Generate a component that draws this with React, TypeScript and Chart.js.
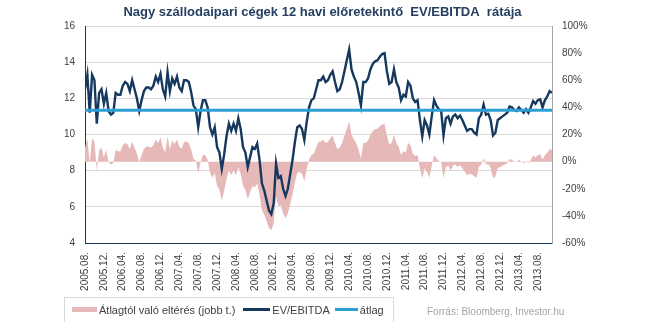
import React, { useEffect, useRef } from 'react';
import { Chart, registerables } from 'chart.js';

Chart.register(...registerables);

// ---- data ----
const chartTitle = 'Nagy szállodaipari cégek 12 havi előretekintő  EV/EBITDA  rátája';
const sourceText = 'Forrás: Bloomberg, Investor.hu';

const xTickLabels = [
  '2005.08.', '2005.12.', '2006.04.', '2006.08.', '2006.12.', '2007.04.', '2007.08.',
  '2007.12.', '2008.04.', '2008.08.', '2008.12.', '2009.04.', '2009.08.', '2009.12.',
  '2010.04.', '2010.08.', '2010.12.', '2011.04.', '2011.08.', '2011.12.', '2012.04.',
  '2012.08.', '2012.12.', '2013.04.', '2013.08.',
];
const monthsPerTickLabel = 4;
const sampleStepMonths = 0.5; // one sample every half month, starting 2005.08

const evEbitda = [
  12.5, 13.3, 11.2, 13.3, 13.0, 10.6, 12.3, 12.5, 11.7, 12.3,
  11.3, 11.1, 11.2, 12.3, 12.2, 12.2, 12.7, 12.9, 12.8, 12.4,
  13.0, 12.5, 12.0, 11.3, 11.9, 12.4, 12.6, 12.6, 12.5, 12.7,
  13.2, 12.9, 13.35, 12.5, 12.1, 13.45, 12.4, 13.1, 12.8, 13.2,
  12.6, 12.4, 13.0, 13.0, 12.9, 12.35, 11.6, 11.4, 10.4, 11.3,
  11.9, 11.9, 11.5, 10.4, 10.0, 10.4, 9.3, 9.0, 8.1, 8.9,
  9.9, 10.6, 10.2, 10.6, 10.2, 10.9, 10.3, 9.3, 9.0, 8.2,
  8.75, 9.3, 9.2, 9.5, 8.6, 7.3, 6.9, 6.35, 5.8, 5.6,
  6.2, 8.4, 7.6, 7.7, 7.0, 6.6, 7.0, 7.8, 8.6, 9.6,
  10.4, 10.5, 10.3, 9.7, 10.7, 11.5, 11.9, 12.0, 12.5, 13.0,
  13.0, 13.2, 12.9, 13.0, 13.3, 13.5, 12.9, 12.4, 12.5, 12.9,
  13.5, 14.1, 14.7, 13.6, 13.2, 12.9, 12.3, 11.6, 12.9, 12.9,
  13.1, 13.6, 13.9, 14.05, 14.1, 14.3, 14.45, 14.5, 13.5, 12.8,
  12.9, 13.6, 12.9, 12.6, 11.9, 12.2, 12.1, 12.9, 12.7, 12.0,
  11.8, 11.9, 10.8, 9.9, 10.8, 10.5, 10.0, 11.0, 11.9, 11.6,
  11.4, 11.3, 9.95, 10.9, 11.0, 10.6, 11.0, 11.1, 10.9, 11.05,
  10.8, 10.5, 10.2, 10.3, 10.3, 10.1, 10.0, 10.9, 11.1, 11.65,
  11.1, 11.15, 10.8, 9.95, 10.1, 10.8, 10.9, 11.0, 11.1, 11.2,
  11.55, 11.5, 11.35, 11.3, 11.5, 11.35, 11.2, 11.4, 11.2, 11.5,
  11.85, 11.7, 11.9, 11.95, 11.5, 11.9, 12.1, 12.4, 12.3,
];

const deviationPct = [
  10.2, 17.3, -1.2, 17.3, 14.6, -6.5, 8.5, 10.2, 3.2, 8.5,
  -0.4, -2.1, -1.2, 8.5, 7.6, 7.6, 12.0, 13.8, 12.9, 9.3,
  14.6, 10.2, 5.8, -0.4, 4.9, 9.3, 11.1, 11.1, 10.2, 12.0,
  16.4, 13.8, 17.7, 10.2, 6.7, 18.6, 9.3, 15.5, 12.9, 16.4,
  11.1, 9.3, 14.6, 14.6, 13.8, 8.9, 2.3, 0.5, -8.3, -0.4,
  4.9, 4.9, 1.4, -8.3, -11.8, -8.3, -18.0, -20.6, -28.6, -21.5,
  -12.7, -6.5, -10.1, -6.5, -10.1, -3.9, -9.2, -18.0, -20.6, -27.7,
  -22.8, -18.0, -18.9, -16.2, -24.2, -35.6, -39.2, -44.0, -48.9, -50.6,
  -45.3, -25.9, -33.0, -32.1, -38.3, -41.8, -38.3, -31.2, -24.2, -15.3,
  -8.3, -7.4, -9.2, -14.5, -5.6, 1.4, 4.9, 5.8, 10.2, 14.6,
  14.6, 16.4, 13.8, 14.6, 17.3, 19.0, 13.8, 9.3, 10.2, 13.8,
  19.0, 24.3, 29.6, 19.9, 16.4, 13.8, 8.5, 2.3, 13.8, 13.8,
  15.5, 19.9, 22.6, 23.9, 24.3, 26.1, 27.4, 27.9, 19.0, 12.9,
  13.8, 19.9, 13.8, 11.1, 4.9, 7.6, 6.7, 13.8, 12.0, 5.8,
  4.1, 4.9, -4.8, -12.7, -4.8, -7.4, -11.8, -3.0, 4.9, 2.3,
  0.5, -0.4, -12.3, -3.9, -3.0, -6.5, -3.0, -2.1, -3.9, -2.6,
  -4.8, -7.4, -10.1, -9.2, -9.2, -10.9, -11.8, -3.9, -2.1, 2.7,
  -2.1, -1.7, -4.8, -12.3, -10.9, -4.8, -3.9, -3.0, -2.1, -1.2,
  1.9, 1.4, 0.1, -0.4, 1.4, 0.1, -1.2, 0.5, -1.2, 1.4,
  4.5, 3.2, 4.9, 5.4, 1.4, 4.9, 6.7, 9.3, 8.5,
];

const averageValue = 11.34;

const leftAxis = { min: 4, max: 16, step: 2 };
const rightAxis = { min: -60, max: 100, step: 20 };

const seriesNames = {
  deviation: 'Átlagtól való eltérés (jobb t.)',
  line: 'EV/EBITDA',
  average: 'átlag',
};

// ---- styles ----
const NAVY = '#15395E';
const BLUE = '#2E9FD5';
const PINK = '#E6B9B8';
const GRID = '#D9D9D9';
const TEXT = '#404040';
const TITLE = '#243F60';
const FONT = '"Liberation Sans", Arial, sans-serif';

export default function App() {
  const canvasRef = useRef<HTMLCanvasElement>(null);

  useEffect(() => {
    const canvas = canvasRef.current;
    if (!canvas) return;
    const months = evEbitda.map((_, i) => i * sampleStepMonths);
    const lastMonth = months[months.length - 1];
    const tickFont = { family: FONT, size: 10 };

    const chart = new Chart(canvas, {
      type: 'line',
      data: {
        datasets: [
          {
            label: seriesNames.average,
            data: [
              { x: months[0], y: averageValue },
              { x: lastMonth, y: averageValue },
            ],
            borderColor: BLUE,
            borderWidth: 3,
            pointRadius: 0,
            yAxisID: 'y',
          },
          {
            label: seriesNames.line,
            data: months.map((m, i) => ({ x: m, y: evEbitda[i] })),
            borderColor: NAVY,
            borderWidth: 2.4,
            pointRadius: 0,
            tension: 0,
            yAxisID: 'y',
          },
          {
            label: seriesNames.deviation,
            data: months.map((m, i) => ({ x: m, y: deviationPct[i] })),
            borderColor: 'rgba(0,0,0,0)',
            borderWidth: 0,
            backgroundColor: PINK,
            fill: 'origin',
            pointRadius: 0,
            tension: 0,
            yAxisID: 'y2',
          },
        ],
      },
      options: {
        animation: false,
        responsive: false,
        layout: { padding: { top: 1, bottom: 29, left: 0, right: 0 } },
        plugins: {
          legend: { display: false },
          tooltip: { enabled: false },
          title: {
            display: true,
            text: chartTitle,
            color: TITLE,
            font: { family: FONT, size: 13, weight: 'bold' },
            padding: { top: 4, bottom: 5.4 },
          },
        },
        scales: {
          x: {
            type: 'linear',
            min: 0,
            max: lastMonth,
            grid: { display: false, drawTicks: false },
            border: { color: NAVY, width: 1 },
            ticks: {
              stepSize: monthsPerTickLabel,
              autoSkip: false,
              maxRotation: 90,
              minRotation: 90,
              includeBounds: false,
              padding: 9,
              color: TEXT,
              font: tickFont,
              callback: (v: any) => {
                const idx = Math.round(Number(v) / monthsPerTickLabel);
                return xTickLabels[idx] ?? null;
              },
            },
            afterFit: (s: any) => {
              s.height = 50;
            },
          },
          y: {
            position: 'left',
            min: leftAxis.min,
            max: leftAxis.max,
            grid: { color: GRID, drawTicks: false, lineWidth: 1 },
            border: { color: NAVY, width: 1 },
            ticks: { stepSize: leftAxis.step, padding: 10, color: TEXT, font: tickFont },
            afterFit: (s: any) => {
              s.width = 85;
            },
          },
          y2: {
            position: 'right',
            min: rightAxis.min,
            max: rightAxis.max,
            grid: { display: false, drawTicks: false },
            border: { color: '#A6A6A6', width: 1 },
            ticks: {
              stepSize: rightAxis.step,
              padding: 10,
              color: TEXT,
              font: tickFont,
              callback: (v: any) => `${v}%`,
            },
            afterFit: (s: any) => {
              s.width = 93;
            },
          },
        },
      },
    } as any);

    return () => chart.destroy();
  }, []);

  const legendText: React.CSSProperties = {
    fontFamily: FONT,
    fontSize: 11,
    color: TEXT,
    whiteSpace: 'nowrap',
  };

  return (
    <div
      style={{
        position: 'absolute',
        left: 0,
        top: 0,
        width: 645,
        height: 322,
        overflow: 'hidden',
        background: '#fff',
      }}
    >
      <canvas ref={canvasRef} width={645} height={322} style={{ display: 'block' }} />
      <div
        style={{
          position: 'absolute',
          left: 64,
          top: 297,
          width: 330,
          height: 30,
          border: '1px solid #D9D9D9',
          display: 'flex',
          alignItems: 'center',
          boxSizing: 'border-box',
          paddingLeft: 7,
          paddingBottom: 5,
        }}
      >
        <span style={{ display: 'inline-block', width: 25, height: 5, background: PINK, marginRight: 2 }} />
        <span style={legendText}>{seriesNames.deviation}</span>
        <span style={{ display: 'inline-block', width: 27, height: 3, background: NAVY, marginLeft: 8, marginRight: 2 }} />
        <span style={legendText}>{seriesNames.line}</span>
        <span style={{ display: 'inline-block', width: 23, height: 3, background: BLUE, marginLeft: 5, marginRight: 2 }} />
        <span style={legendText}>{seriesNames.average}</span>
      </div>
      <div
        style={{
          position: 'absolute',
          left: 427,
          top: 306,
          fontFamily: FONT,
          fontSize: 10,
          color: '#A6A6A6',
          whiteSpace: 'nowrap',
        }}
      >
        {sourceText}
      </div>
    </div>
  );
}
